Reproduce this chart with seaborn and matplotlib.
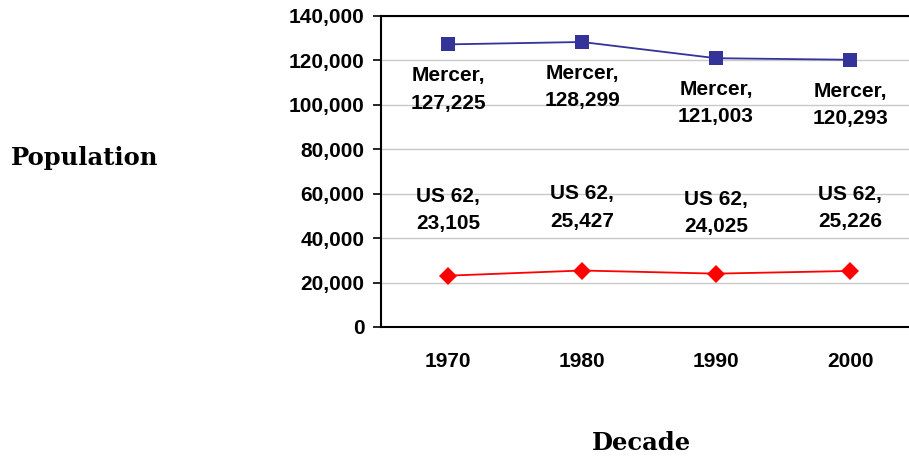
import matplotlib
matplotlib.use("Agg")
import matplotlib.pyplot as plt
import seaborn as sns
import pandas as pd
from matplotlib.ticker import FuncFormatter, FixedLocator

decades = ["1970", "1980", "1990", "2000"]
mercer = [127225, 128299, 121003, 120293]
us62 = [23105, 25427, 24025, 25226]
series_names = ["Mercer", "US 62"]

# label placement (pixels from the point)
mercer_off = [-45, -45, -45, -45]
us62_off = [66, 63, 61, 63]

df = pd.DataFrame({
    "decade": decades * 2,
    "pop": mercer + us62,
    "series": [series_names[0]] * 4 + [series_names[1]] * 4,
})

sns.set_style("white")
plt.rcParams["font.family"] = ["Liberation Sans", "DejaVu Sans"]
plt.rcParams["font.weight"] = "bold"
plt.rcParams["text.color"] = "black"
plt.rcParams["xtick.color"] = "black"
plt.rcParams["ytick.color"] = "black"

fig = plt.figure(figsize=(9.09, 4.58), dpi=100)
ax = fig.add_axes([381 / 909, 1 - 327 / 458, 536 / 909, 311 / 458])

sns.lineplot(data=df, x="decade", y="pop", hue="series", style="series",
             palette={"Mercer": "#333399", "US 62": "#ff0000"},
             markers={"Mercer": "s", "US 62": "D"}, dashes=False,
             markersize=9.5, markeredgewidth=0, linewidth=1.3,
             legend=False, ax=ax, sort=False)

ax.set_xlim(-0.5, 3.5)
ax.set_ylim(0, 140000)
ax.yaxis.set_major_locator(FixedLocator(range(0, 140001, 20000)))
ax.yaxis.set_major_formatter(FuncFormatter(lambda v, p: f"{int(v):,}"))
ax.grid(axis="y", color="#c8c8c8", linewidth=1)
ax.set_axisbelow(True)

ax.set_xticks(range(4))
ax.set_xticklabels(decades)
ax.set_xticks([-0.5, 0.5, 1.5, 2.5, 3.5], minor=True)
ax.tick_params(axis="x", which="major", length=0, pad=18, labelsize=15)
ax.tick_params(axis="x", which="minor", length=6, width=1.2, direction="out", color="black")
ax.tick_params(axis="y", length=6, width=1.2, direction="out", color="black",
               pad=6, labelsize=15, left=True)
for lab in ax.get_xticklabels() + ax.get_yticklabels():
    lab.set_fontweight("bold")
    lab.set_color("black")

for s in ["left", "bottom", "top"]:
    ax.spines[s].set_color("black")
    ax.spines[s].set_linewidth(1.5)
ax.spines["right"].set_visible(False)

ax.set_xlabel("")
ax.set_ylabel("")

for i, d in enumerate(decades):
    ax.annotate(f"Mercer,\n{mercer[i]:,}", (i, mercer[i]), xytext=(0, mercer_off[i]),
                textcoords="offset pixels", ha="center", va="center",
                fontsize=15, fontweight="bold", linespacing=1.55, color="black")
    ax.annotate(f"US 62,\n{us62[i]:,}", (i, us62[i]), xytext=(0, us62_off[i]),
                textcoords="offset pixels", ha="center", va="center",
                fontsize=15, fontweight="bold", linespacing=1.55, color="black")

fig.text(85 / 909, 1 - 158 / 458, "Population", ha="center", va="center",
         fontsize=17.5, fontweight="bold", family="DejaVu Serif", color="black")
fig.text(641 / 909, 1 - 443 / 458, "Decade", ha="center", va="center",
         fontsize=17.5, fontweight="bold", family="DejaVu Serif", color="black")

fig.savefig("out.png", dpi=100)
